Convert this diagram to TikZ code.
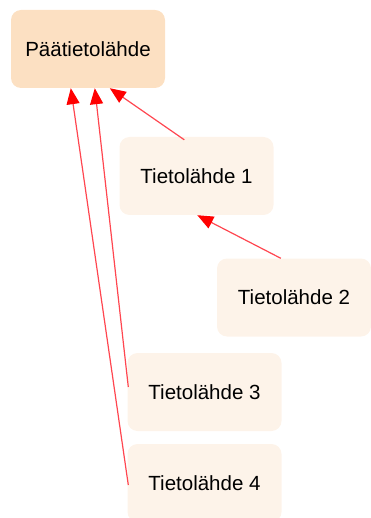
\documentclass[tikz,border=0pt]{standalone}
\usepackage{fontspec}
\setmainfont{Liberation Sans}
\usetikzlibrary{arrows.meta,calc}
\definecolor{mainfill}{RGB}{252,224,194}
\definecolor{srcfill}{RGB}{253,243,233}
\definecolor{linkred}{RGB}{255,70,80}
\tikzset{
  box/.style={rounded corners=10pt, minimum width=154pt, minimum height=78pt,
    inner sep=0pt, font=\fontsize{20.5pt}{24pt}\selectfont, text=black},
  mainbox/.style={box, fill=mainfill},
  srcbox/.style={box, fill=srcfill},
  link/.style={draw=linkred, line width=1.2pt,
    -{Triangle[length=16pt,width=13pt,fill=red,color=red]}}
}
\begin{document}
\begin{tikzpicture}[x=1pt,y=-1pt]
  \useasboundingbox (0,0) rectangle (370,518);
  \node[mainbox] (main) at (88,49) {Päätietolähde};
  \node[srcbox] (s1) at (196.5,176) {Tietolähde 1};
  \node[srcbox] (s2) at (294,297.5) {Tietolähde 2};
  \node[srcbox] (s3) at (204.5,392) {Tietolähde 3};
  \node[srcbox] (s4) at (204.5,483) {Tietolähde 4};

  \draw[link] ($(s1.north west)+(65,3)$) -- ($(main.south west)+(99,0)$);
  \draw[link] ($(s2.north west)+(64,0)$) -- ($(s1.south west)+(78,0)$);
  \draw[link] ($(s3.west)+(1,-5)$) -- ($(main.south west)+(84,0)$);
  \draw[link] ($(s4.west)+(1,2)$) -- ($(main.south west)+(60,0)$);
\end{tikzpicture}
\end{document}
